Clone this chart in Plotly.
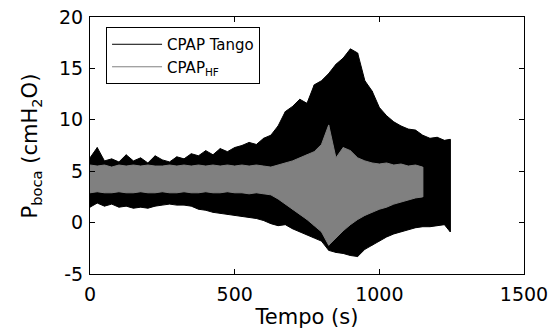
import plotly.graph_objects as go

# ---- data (envelopes of the dense signals) ----
tango_t = [0, 25, 50, 75, 100, 125, 150, 175, 200, 225, 250, 275, 300, 325, 350, 375, 400,
           425, 450, 475, 500, 525, 550, 575, 600, 625, 650, 675, 700, 725, 750, 775, 800,
           825, 850, 875, 900, 925, 950, 975, 1000, 1025, 1050, 1075, 1100, 1125, 1150,
           1175, 1200, 1225, 1245]
tango_upper = [6.3, 7.3, 6.0, 6.2, 5.9, 6.6, 6.0, 6.3, 5.8, 6.5, 6.1, 5.9, 6.4, 6.2, 6.7, 6.5,
               7.0, 6.6, 7.2, 6.9, 7.3, 7.5, 7.8, 7.6, 8.2, 8.5, 9.4, 10.8, 11.3, 12.0, 11.6,
               13.4, 13.8, 14.5, 15.4, 16.0, 16.9, 16.5, 13.8, 12.8, 11.2, 10.4, 9.8, 9.4, 9.1,
               9.0, 8.5, 8.2, 8.3, 8.0, 8.1]
tango_lower = [1.5, 1.9, 1.6, 1.8, 1.5, 1.6, 1.4, 1.5, 1.4, 1.6, 1.7, 1.8, 1.7, 1.7, 1.6, 1.3,
               1.2, 1.0, 0.9, 0.8, 0.7, 0.6, 0.5, 0.4, 0.2, -0.1, -0.3, -0.2, -0.6, -0.9, -1.2,
               -1.5, -1.8, -2.7, -2.9, -3.0, -3.2, -3.3, -2.6, -2.2, -1.8, -1.4, -1.1, -0.9,
               -0.7, -0.5, -0.4, -0.4, -0.3, -0.2, -0.9]

hf_t = [0, 25, 50, 75, 100, 125, 150, 175, 200, 225, 250, 275, 300, 325, 350, 375, 400, 425,
        450, 475, 500, 525, 550, 575, 600, 625, 650, 675, 700, 725, 750, 775, 800, 825, 850,
        875, 900, 925, 950, 975, 1000, 1025, 1050, 1075, 1100, 1125, 1150]
hf_upper = [5.6, 5.5, 5.6, 5.4, 5.6, 5.5, 5.6, 5.5, 5.6, 5.5, 5.5, 5.6, 5.5, 5.6, 5.5, 5.6,
            5.5, 5.6, 5.5, 5.6, 5.5, 5.6, 5.5, 5.6, 5.5, 5.4, 5.6, 5.8, 6.0, 6.3, 6.6, 6.9,
            7.6, 9.5, 6.3, 7.3, 7.0, 6.3, 6.0, 5.8, 5.7, 5.8, 5.6, 5.7, 5.5, 5.6, 5.4]
hf_lower = [2.9, 3.0, 2.9, 2.9, 3.0, 2.9, 2.9, 3.0, 2.9, 2.9, 3.0, 2.9, 2.9, 3.0, 2.9, 2.9,
            3.0, 2.9, 2.9, 3.0, 2.9, 2.9, 2.8, 2.9, 2.8, 2.7, 2.3, 1.8, 1.3, 0.8, 0.3, -0.3,
            -0.9, -2.2, -1.5, -0.8, -0.2, 0.3, 0.7, 1.0, 1.3, 1.5, 1.8, 2.0, 2.2, 2.4, 2.5]

series = [
    ("CPAP Tango", tango_t, tango_upper, tango_lower, "#000000"),
    ("CPAP<sub>HF</sub>", hf_t, hf_upper, hf_lower, "#808080"),
]

x_ticks = [0, 500, 1000, 1500]
x_tick_text = ["0", "500", "1000", "1500"]
y_ticks = [-5, 0, 5, 10, 15, 20]
y_tick_text = ["-5", "0", "5", "10", "15", "20"]

FONT = "DejaVu Sans"

fig = go.Figure()
for name, t, up, lo, col in series:
    # filled band of the dense oscillation
    fig.add_trace(go.Scatter(
        x=t + t[::-1], y=up + lo[::-1], fill="toself", fillcolor=col,
        mode="lines", line=dict(color=col, width=1), showlegend=False,
        hoverinfo="skip"))
    # vertical strokes (signal swings) -- also gives a line legend entry
    xs, ys = [], []
    for ti, u, l in zip(t, up, lo):
        xs += [ti, ti, None]
        ys += [l, u, None]
    fig.add_trace(go.Scatter(x=xs, y=ys, mode="lines", name=name,
                             line=dict(color=col, width=1)))

axis_common = dict(
    showline=True, linecolor="black", linewidth=1, mirror="ticks",
    ticks="inside", ticklen=5, tickcolor="black", showgrid=False, zeroline=False,
    automargin=False, ticklabeloverflow="allow",
    tickfont=dict(family=FONT, size=19, color="black"),
)
fig.update_xaxes(range=[0, 1500], tickvals=x_ticks, ticktext=x_tick_text, **axis_common,
                 ticklabelstandoff=3,
                 title=dict(text="Tempo (s)", font=dict(family=FONT, size=21, color="black"),
                            standoff=0))
fig.update_yaxes(range=[-5, 20], tickvals=y_ticks, ticktext=y_tick_text, **axis_common,
                 ticklabelstandoff=2)

fig.add_annotation(
    text="P<sub>boca</sub> (cmH<sub>2</sub>O)", textangle=-90,
    xref="paper", yref="paper", x=-0.136, y=0.5, xanchor="center", yanchor="middle",
    showarrow=False, font=dict(family=FONT, size=21, color="black"))

fig.update_layout(
    width=557, height=329,
    margin=dict(l=90, r=33, t=17, b=55),
    paper_bgcolor="white", plot_bgcolor="white",
    font=dict(family=FONT, color="black"),
    legend=dict(x=0.037, y=0.961, xanchor="left", yanchor="top",
                bgcolor="white", bordercolor="black", borderwidth=1,
                font=dict(family=FONT, size=15, color="black"),
                itemwidth=50, tracegroupgap=0),
)

# remove the browser's default 8 px body margin so the figure fills the window
fig.write_html("out.html", config={"displayModeBar": False},
               post_script="document.body.style.margin='0';")
